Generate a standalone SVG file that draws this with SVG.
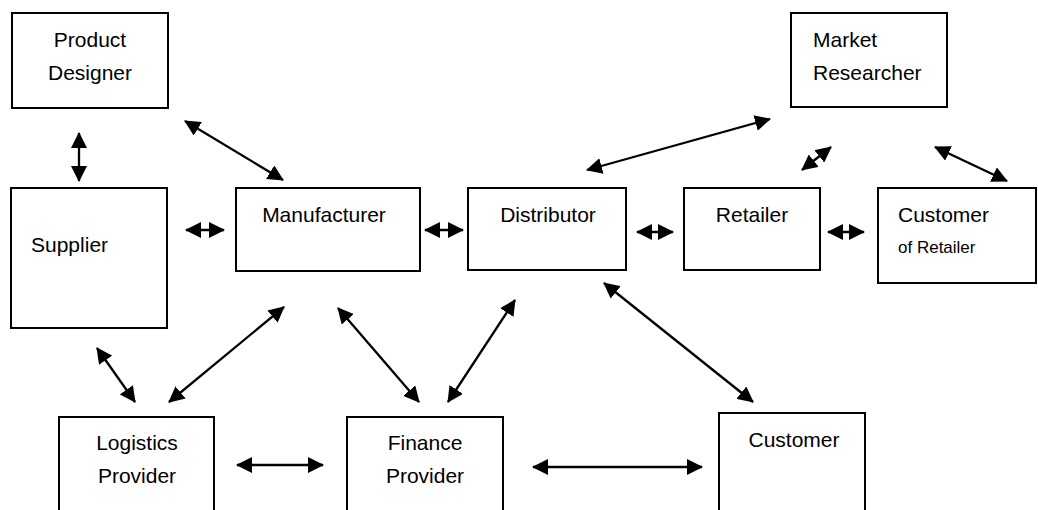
<svg xmlns="http://www.w3.org/2000/svg" width="1038" height="510" viewBox="0 0 1038 510">
<style>
.box{fill:#fff;stroke:#000;stroke-width:2}
.t{font-family:"Liberation Sans",Arial,sans-serif;font-size:21px;fill:#000}
.s{font-size:17px}
.c{text-anchor:middle}
.a{stroke:#000;stroke-width:2.3;fill:none;marker-start:url(#ah);marker-end:url(#ah)}
</style>
<defs>
<marker id="ah" viewBox="0 0 16 16" refX="15" refY="8" markerWidth="16" markerHeight="16" markerUnits="userSpaceOnUse" orient="auto-start-reverse">
<path d="M0,0 L16,8 L0,16 z" fill="#000"/>
</marker>
</defs>
<rect width="1038" height="510" fill="#fff"/>
<g id="product-designer"><rect class="box" x="12" y="13" width="156" height="95"/><text class="t c" x="90" y="47">Product</text><text class="t c" x="90" y="80">Designer</text></g>
<g id="market-researcher"><rect class="box" x="791" y="13" width="156" height="94"/><text class="t" x="813" y="47">Market</text><text class="t" x="813" y="80">Researcher</text></g>
<g id="supplier"><rect class="box" x="11" y="188" width="156" height="140"/><text class="t" x="31" y="252">Supplier</text></g>
<g id="manufacturer"><rect class="box" x="236" y="188" width="184" height="83"/><text class="t c" x="324" y="222">Manufacturer</text></g>
<g id="distributor"><rect class="box" x="468" y="188" width="158" height="82"/><text class="t c" x="548" y="222">Distributor</text></g>
<g id="retailer"><rect class="box" x="684" y="188" width="136" height="82"/><text class="t c" x="752" y="222">Retailer</text></g>
<g id="customer-of-retailer"><rect class="box" x="878" y="188" width="158" height="95"/><text class="t" x="898" y="222">Customer</text><text class="t s" x="898" y="253">of Retailer</text></g>
<g id="logistics-provider"><rect class="box" x="59" y="417" width="155" height="120"/><text class="t c" x="137" y="450">Logistics</text><text class="t c" x="137" y="483">Provider</text></g>
<g id="finance-provider"><rect class="box" x="347" y="417" width="156" height="120"/><text class="t c" x="425" y="450">Finance</text><text class="t c" x="425" y="483">Provider</text></g>
<g id="customer"><rect class="box" x="719" y="413" width="146" height="124"/><text class="t c" x="794" y="447">Customer</text></g>
<g id="connectors">
<line class="a" x1="79" y1="133" x2="79" y2="181"/>
<line class="a" x1="185" y1="121" x2="283" y2="180"/>
<line class="a" x1="587" y1="170" x2="770" y2="119"/>
<line class="a" x1="802" y1="170" x2="831" y2="147"/>
<line class="a" x1="935" y1="147" x2="1007" y2="181"/>
<line class="a" x1="186" y1="230" x2="224" y2="230"/>
<line class="a" x1="425" y1="230" x2="463" y2="230"/>
<line class="a" x1="637" y1="232" x2="673" y2="232"/>
<line class="a" x1="828" y1="232" x2="864" y2="232"/>
<line class="a" x1="97" y1="348" x2="135" y2="402"/>
<line class="a" x1="169" y1="402" x2="284" y2="307"/>
<line class="a" x1="338" y1="308" x2="419" y2="402"/>
<line class="a" x1="448" y1="402" x2="515" y2="300"/>
<line class="a" x1="604" y1="283" x2="753" y2="402"/>
<line class="a" x1="237" y1="465" x2="323" y2="465"/>
<line class="a" x1="533" y1="467" x2="702" y2="467"/>
</g>
</svg>
